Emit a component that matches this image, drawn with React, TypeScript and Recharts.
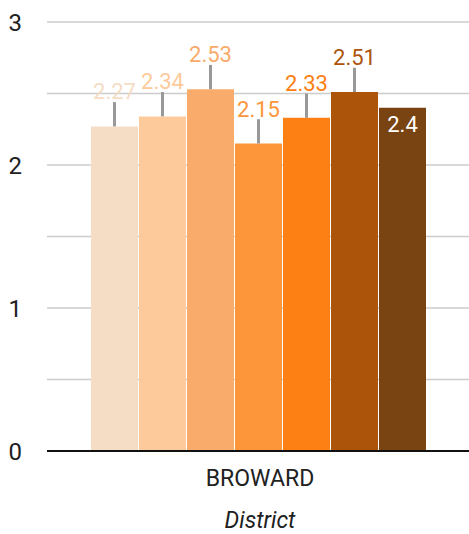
import React from 'react'
import { BarChart, Bar, XAxis, YAxis, CartesianGrid, ErrorBar, LabelList } from 'recharts'

const districts = ['BROWARD']
const seriesKeys = ['g1', 'g2', 'g3', 'g4', 'g5', 'g6', 'g7']
const seriesValues = [2.27, 2.34, 2.53, 2.15, 2.33, 2.51, 2.4]
const upperErrors = [0.17, 0.17, 0.17, 0.17, 0.17, 0.17, 0]
const yTicks = [0, 0.5, 1, 1.5, 2, 2.5, 3]

const colors = ['#f5dcc4', '#fdca9c', '#f8ab6a', '#fd953a', '#fd8014', '#ac540a', '#7a4312']

const data = districts.map(name => {
  const row: Record<string, any> = { district: name }
  seriesKeys.forEach((key, i) => {
    row[key] = seriesValues[i]
    row[key + 'Err'] = [0, upperErrors[i]]
  })
  return row
})

const font = 'Roboto, sans-serif'

const App = () => {
  return (
    <div style={{ position: 'absolute', left: 0, top: 0, fontFamily: font }}>
      <BarChart
        width={469}
        height={534}
        data={data}
        margin={{ top: 22, right: -4, bottom: 0, left: 0 }}
        barGap={1}
        barCategoryGap={44}
      >
        <CartesianGrid vertical={false} stroke="#cccccc" strokeWidth={1.5} />
        <YAxis
          type="number"
          domain={[0, 3]}
          ticks={yTicks}
          width={47}
          axisLine={false}
          tickLine={false}
          tickSize={0}
          tickMargin={25}
          interval={0}
          tickFormatter={(v: number) => (Number.isInteger(v) ? String(v) : '')}
          tick={{ fill: '#212121', fontSize: 24, fontFamily: font }}
        />
        <XAxis
          dataKey="district"
          height={83}
          tickLine={false}
          tickSize={0}
          tickMargin={19}
          axisLine={{ stroke: '#111111', strokeWidth: 2 }}
          tick={{ fill: '#212121', fontSize: 23, fontFamily: font }}
          label={{
            value: 'District',
            position: 'insideBottom',
            offset: 6,
            fill: '#212121',
            fontSize: 23,
            fontStyle: 'italic',
            fontFamily: font,
          }}
        />
        {seriesKeys.map((key, i) => {
          const inside = upperErrors[i] === 0
          return (
            <Bar key={key} dataKey={key} fill={colors[i]} isAnimationActive={false}>
              {!inside && (
                <ErrorBar
                  dataKey={key + 'Err'}
                  direction="y"
                  width={0}
                  stroke="#999999"
                  strokeWidth={3}
                  isAnimationActive={false}
                />
              )}
              <LabelList
                dataKey={key}
                position={inside ? 'insideTop' : 'top'}
                offset={inside ? 9 : 27}
                fill={inside ? '#ffffff' : colors[i]}
                fontSize={22}
                fontFamily={font}
              />
            </Bar>
          )
        })}
      </BarChart>
    </div>
  )
}

export default App
